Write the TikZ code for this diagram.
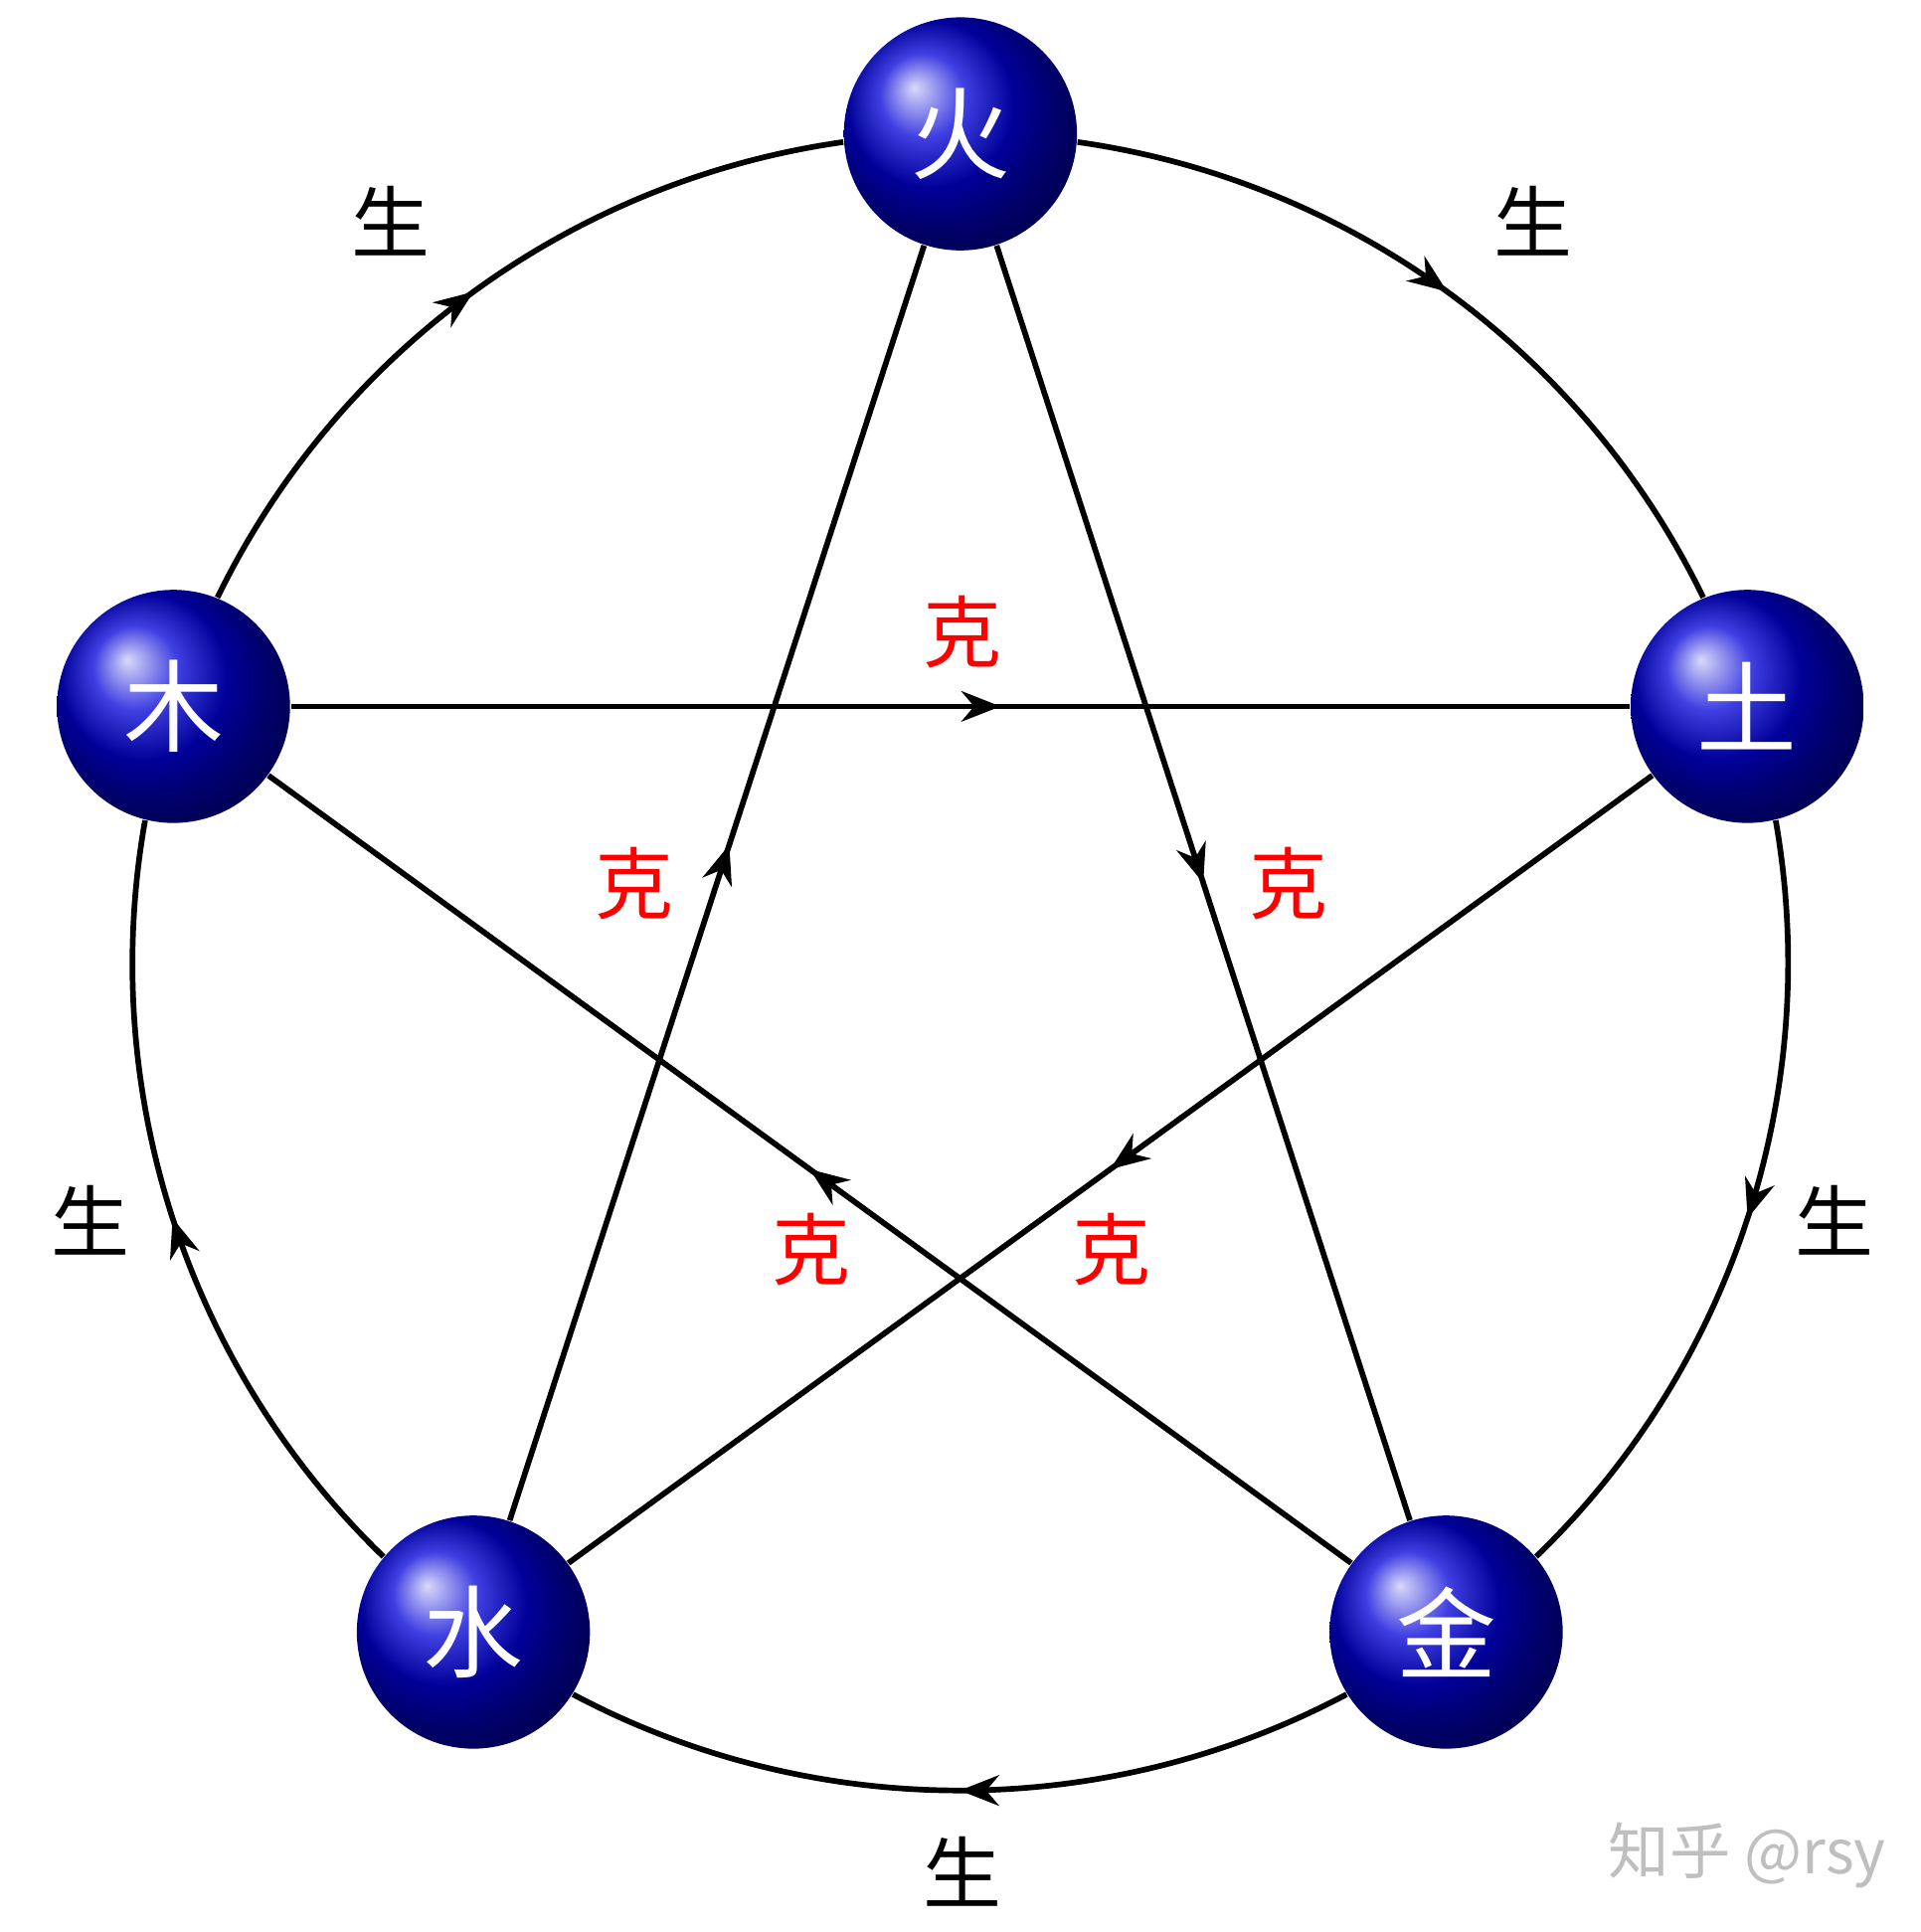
\documentclass[tikz,border=0pt]{standalone}
\usepackage{fontspec}
\newfontfamily\cjk{Noto Sans CJK SC}
\usetikzlibrary{arrows.meta}
\usetikzlibrary{decorations.markings}
\tikzset{
  elem/.style={circle, minimum size=1.88cm, inner sep=0pt, shading=ball, ball color=blue!85!black,
    text=white, font=\cjk\fontsize{23}{23}\selectfont},
  flow/.style={line width=1.3pt, postaction={decorate}, decoration={markings,
    mark=at position #1 with {\arrow{Stealth[length=9pt,width=7pt]}}}},
  flow/.default=0.5,
  cycle/.style={flow, bend left=28, looseness=0.905},
  sheng/.style={font=\cjk\fontsize{18}{18}\selectfont},
  ke/.style={font=\cjk\fontsize{18}{18}\selectfont, text=red}
}
\begin{document}
\begin{tikzpicture}[x=0.01cm,y=0.01cm]
        \useasboundingbox (0,0) rectangle (1550,-1559);
        % the five elements
        \node[elem] (huo) at (775,-108) {火};
        \node[elem] (tu) at (1410,-570) {土};
        \node[elem] (jin) at (1167,-1317) {金};
        \node[elem] (shui) at (382,-1317) {水};
        \node[elem] (mu) at (140,-570) {木};
        % generating cycle
        \draw[cycle] (mu.68) to (huo.184);
        \draw[cycle] (huo.-4) to (tu.112);
        \draw[cycle] (tu.-76) to (jin.40);
        \draw[cycle] (jin.-148) to (shui.-32);
        \draw[cycle] (shui.140) to (mu.256);
        % overcoming star
        \draw[flow=0.53] (mu) -- (tu);
        \draw[flow] (tu) -- (shui);
        \draw[flow=0.53] (shui) -- (huo);
        \draw[flow] (huo) -- (jin);
        \draw[flow] (jin) -- (mu);
        % labels
        \node[sheng] (s1) at (315,-178) {生};
        \node[sheng] (s2) at (1237,-178) {生};
        \node[sheng] (s3) at (1480,-985) {生};
        \node[sheng] (s4) at (777,-1510) {生};
        \node[sheng] (s5) at (73,-985) {生};
        \node[ke] (k1) at (777,-510) {克};
        \node[ke] (k2) at (1040,-713) {克};
        \node[ke] (k3) at (897,-1008) {克};
        \node[ke] (k4) at (655,-1008) {克};
        \node[ke] (k5) at (512,-713) {克};
        \node[font=\cjk\fontsize{14}{14}\selectfont, text=black!25] (mark) at (1410,-1497) {知乎 @rsy};
    \end{tikzpicture}
\end{document}
